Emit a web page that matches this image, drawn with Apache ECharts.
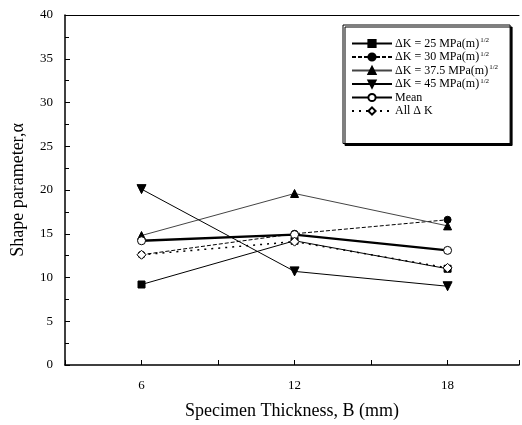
<!DOCTYPE html>
<html><head><meta charset="utf-8">
<script src="https://cdn.jsdelivr.net/npm/echarts@6/dist/echarts.min.js"></script>
<style>html,body{margin:0;padding:0;background:#fff}#c{width:522px;height:425px}</style>
</head><body><div id="c"></div>
<script>
const thickness = [6, 12, 18];
const s25 = [9.2, 14.2, 11.0];
const s30 = [12.6, 15.0, 16.6];
const s375 = [14.8, 19.6, 15.9];
const s45 = [20.1, 10.7, 9.0];
const meanV = [14.2, 14.9, 13.1];
const allDK = [12.6, 14.1, 11.1];
const names = ['dk25', 'dk30', 'dk375', 'dk45', 'Mean', 'All ΔK'];
const legendText = {
  dk25: '{t|ΔK = 25 MPa(m)}{s|1/2}',
  dk30: '{t|ΔK = 30 MPa(m)}{s|1/2}',
  dk375: '{t|ΔK = 37.5 MPa(m)}{s|1/2}',
  dk45: '{t|ΔK = 45 MPa(m)}{s|1/2}',
  'Mean': '{t|Mean}',
  'All ΔK': '{t|All Δ K}'
};
const F = '"Liberation Serif", "DejaVu Serif", serif';
const pts = a => thickness.map((x, i) => [x, a[i]]);
const inv = 'path://M0,0 L10,0 L5,9 Z';
function ser(name, data, sym, size, fill, ls) {
  return {
    name, type: 'line', data: pts(data), symbol: sym, symbolSize: size,
    itemStyle: { color: fill, borderColor: '#000', borderWidth: 1 },
    lineStyle: Object.assign({ color: '#000', width: 1 }, ls),
    z: 3
  };
}
const chart = echarts.init(document.getElementById('c'));
chart.setOption({
  animation: false,
  backgroundColor: '#fff',
  textStyle: { fontFamily: F },
  grid: { left: 65, right: 0, top: 15, bottom: 60 },
  legend: {
    orient: 'vertical', left: 343, top: 25, width: 170,
    padding: [12, 12, 26, 8], itemGap: 0.5, itemWidth: 40, itemHeight: 9,
    backgroundColor: '#fff', borderColor: '#000', borderWidth: 1,
    shadowColor: '#000', shadowOffsetX: 2, shadowOffsetY: 2, shadowBlur: 0,
    data: names,
    formatter: n => legendText[n],
    textStyle: {
      fontFamily: F, color: '#000', padding: [0,0,0,-2], lineHeight: 13,
      rich: { t: { fontFamily: F, fontSize: 12, lineHeight: 13, color: '#000' }, s: { fontFamily: F, fontSize: 7, lineHeight: 13, color: '#000', verticalAlign: 'top', padding: [0,0,0,1] } }
    }
  },
  xAxis: [{
    type: 'value', min: 3, max: 20.8, interval: 3,
    name: 'Specimen Thickness, B (mm)', nameLocation: 'middle', nameGap: 37,
    nameTextStyle: { fontFamily: F, fontSize: 18, color: '#000' },
    axisLine: { lineStyle: { color: '#000', width: 1.5 } },
    axisTick: { inside: true, length: 5, lineStyle: { color: '#000' } },
    axisLabel: { fontFamily: F, fontSize: 13, color: '#000', margin: 14,
      formatter: v => (v % 6 === 0 ? String(v) : '') },
    splitLine: { show: false }
  }, {
    type: 'value', position: 'top', min: 3, max: 20.8,
    axisLine: { show: true, lineStyle: { color: '#000', width: 1 } },
    axisTick: { show: false }, axisLabel: { show: false }, splitLine: { show: false }
  }],
  yAxis: {
    type: 'value', min: 0, max: 40, interval: 5,
    name: 'Shape parameter,α', nameLocation: 'middle', nameGap: 38,
    nameTextStyle: { fontFamily: F, fontSize: 18, color: '#000' },
    axisLine: { lineStyle: { color: '#000', width: 1.5 } },
    axisTick: { inside: true, length: 5, lineStyle: { color: '#000' } },
    minorTick: { show: true, splitNumber: 2, length: 4, lineStyle: { color: '#000' } },
    axisLabel: { fontFamily: F, fontSize: 13, color: '#000', margin: 12 },
    splitLine: { show: false }
  },
  series: [
    ser('dk25', s25, 'rect', 7, '#000', {}),
    ser('dk30', s30, 'circle', 7, '#000', { type: [4, 2] }),
    ser('dk375', s375, 'triangle', 8, '#000', { color: '#444' }),
    ser('dk45', s45, inv, 9, '#000', {}),
    ser('Mean', meanV, 'circle', 8, '#fff', { width: 2.5 }),
    ser('All ΔK', allDK, 'diamond', 9, '#fff', { type: [2, 5], width: 1.5 })
  ]
});
</script></body></html>
